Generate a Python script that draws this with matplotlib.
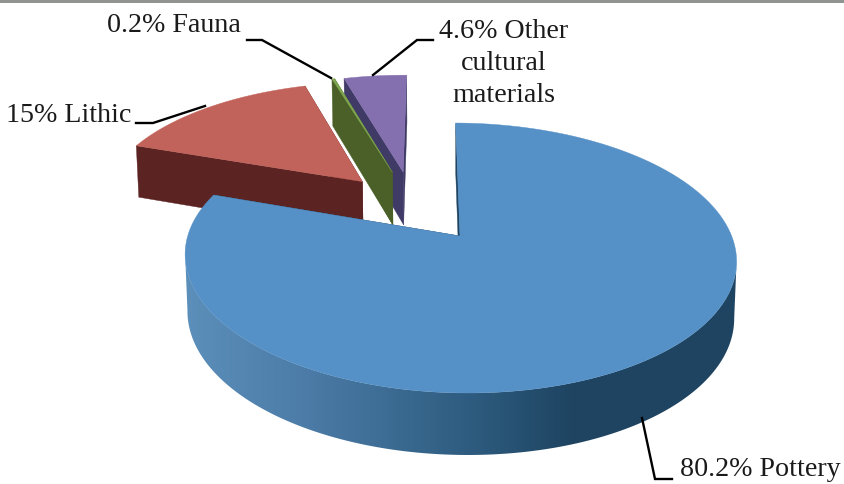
import matplotlib
matplotlib.use("Agg")
import matplotlib.pyplot as plt
import numpy as np
from matplotlib.patches import Polygon

# shares of the assemblage, in percent
names = ["Pottery", "Lithic", "Fauna", "Other cultural materials"]
shares = [80.2, 15, 0.2, 4.6]

top_colors = ["#5590c6", "#c2635b", "#7fa650", "#8470ae"]
face_colors = ["#1f4562", "#5b2322", "#4a6028", "#3f3a66"]

# how far each slice is pulled out, direction clockwise from the back (deg) and radius
pull_dir = [0, 319.5, 333.6, 337.6]
pull_len = [0, 0.58, 0.585, 0.57]

# perspective of the disc on the page, in pixels
cx, cy = 460, 236
rx, ry = 272, 131.4
persp = 0.163
shear_x, shear_y = -5, 1


def thickness(v):
    # the near side of the disc looks thicker than the far side
    return 56 - 6 * v


def project(u, v, bottom=False):
    w = 1 + persp * v
    x = cx + (rx * u + shear_x * v) / w
    y = cy + (-ry * v + shear_y * u) / w
    if bottom:
        d = thickness(v)
        y = y + d
        x = cx + (x - cx) * (1 - 0.00015 * d)
    return x, y


fig = plt.figure(figsize=(8.45, 4.84), dpi=100)
ax = fig.add_axes([0, 0, 1, 1])

# grey rule along the top edge
ax.fill_between([0, 845], 0, 3, color="#8f9490", lw=0)

ends = np.cumsum(shares) / sum(shares) * 360
starts = ends - np.array(shares) / sum(shares) * 360

# back slices first so that the front ones cover them
for i in [3, 2, 1, 0]:
    pu = pull_len[i] * np.sin(np.radians(pull_dir[i]))
    pv = pull_len[i] * np.cos(np.radians(pull_dir[i]))
    ang = np.radians(np.linspace(starts[i], ends[i], 240))
    u = pu + np.sin(ang)
    v = pv + np.cos(ang)

    # cut faces
    for a in (ang[0], ang[-1]):
        ru, rv = pu + np.sin(a), pv + np.cos(a)
        x0, y0 = project(pu, pv)
        x1, y1 = project(ru, rv)
        x2, y2 = project(ru, rv, bottom=True)
        x3, y3 = project(pu, pv, bottom=True)
        ax.fill([x0, x1, x2, x3], [y0, y1, y2, y3], color=face_colors[i], lw=0.3, zorder=2 + (3 - i))

    # outer wall of the big slice, shaded from left to right
    if i == 0:
        xa, ya = project(u, v)
        xb, yb = project(u, v, bottom=True)
        # rim between its left and right extremes only, so the outline does not fold over
        a0, a1 = np.argmax(xa), np.argmin(xa)
        b0, b1 = np.argmax(xb), np.argmin(xb)
        outline = np.c_[np.r_[xa[a0:a1 + 1], xb[b0:b1 + 1][::-1]], np.r_[ya[a0:a1 + 1], yb[b0:b1 + 1][::-1]]]
        gx = np.linspace(180, 740, 560)
        shade = np.stack([
            np.interp(gx, [186, 300, 470, 570, 737], [0.36, 0.30, 0.18, 0.12, 0.12]),
            np.interp(gx, [186, 300, 470, 570, 737], [0.56, 0.49, 0.36, 0.27, 0.27]),
            np.interp(gx, [186, 300, 470, 570, 737], [0.73, 0.66, 0.50, 0.385, 0.385]),
        ], axis=-1)[np.newaxis, :, :]
        wall = ax.imshow(shade, extent=[180, 740, 484, 200], aspect="auto", zorder=2)
        wall.set_clip_path(Polygon(outline, transform=ax.transData))

    tx, ty = project(np.r_[pu, u], np.r_[pv, v])
    ax.fill(tx, ty, color=top_colors[i], lw=0.3, zorder=2 + (3 - i) + 0.5)

# leader lines
leaders = [
    ([642, 655, 672], [418, 479, 479]),
    ([136, 153, 205], [123, 123, 106]),
    ([247, 262, 331], [40, 40, 78]),
    ([433, 417, 373], [40, 40, 75]),
]
for lx, ly in leaders:
    ax.plot(lx, ly, color="black", lw=1.7, zorder=10, solid_joinstyle="miter")

font = dict(family="Liberation Serif", fontsize=20.2, color="#1a1a1a", zorder=11)
ax.text(760, 470, f"{shares[0]}% {names[0]}", ha="center", va="center", **font)
ax.text(69, 115, f"{shares[1]}% {names[1]}", ha="center", va="center", **font)
ax.text(174, 25, f"{shares[2]}% {names[2]}", ha="center", va="center", **font)
ax.text(504, 32, f"{shares[3]}% Other", ha="center", va="center", **font)
ax.text(504, 63, "cultural", ha="center", va="center", **font)
ax.text(504, 95, "materials", ha="center", va="center", **font)

ax.set_xlim(0, 845)
ax.set_ylim(484, 0)
ax.axis("off")

fig.savefig("out.png", dpi=100)
